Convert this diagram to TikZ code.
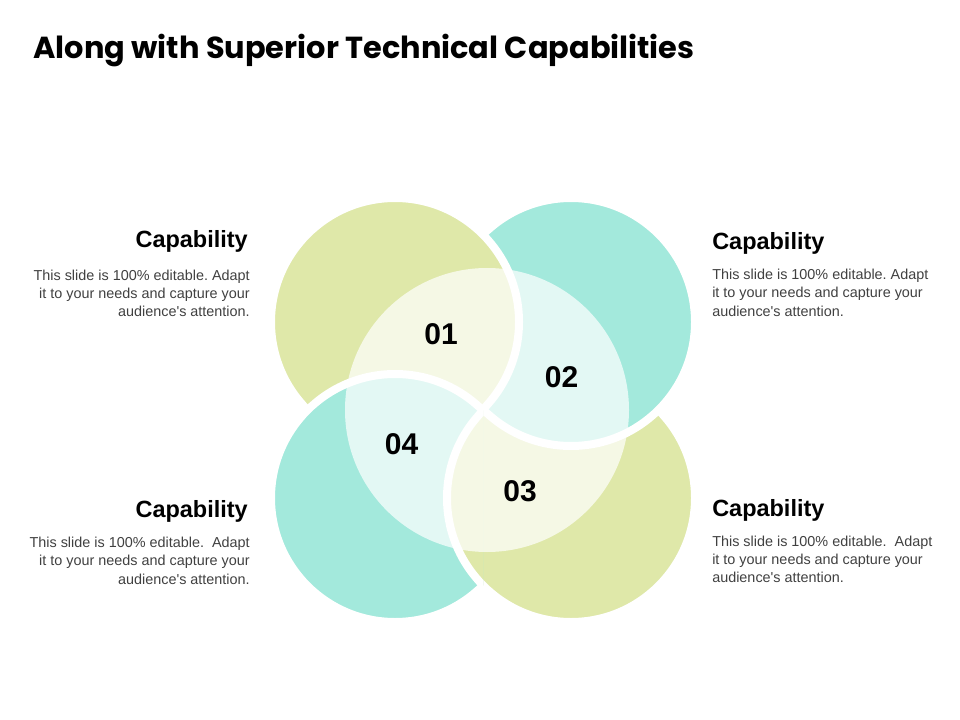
\documentclass[tikz,border=0pt]{standalone}
\usepackage{fontspec}
\setmainfont{Liberation Sans}
\newfontfamily\titlefont[Ligatures=NoCommon]{Poppins}
\usepackage{tikz}
\usetikzlibrary{positioning}

\definecolor{capgreen}{RGB}{223,232,169}
\definecolor{capteal}{RGB}{163,233,220}
\definecolor{blurbgray}{RGB}{64,64,64}

\tikzset{
  petal/.style={draw=white, line width=6pt},
  heading/.style={font=\bfseries\fontsize{17.6}{20}\selectfont, inner sep=0pt},
  blurb/.style={font=\frenchspacing\fontsize{10.8}{13.7}\selectfont, text=blurbgray, inner sep=0pt},
  numlabel/.style={font=\bfseries\fontsize{22.5}{26}\selectfont, inner sep=0pt}
}

% the four circles
\newcommand{\petalone}{\fill[capgreen, petal] (395,322) circle (124);}
\newcommand{\petaltwo}{\fill[capteal, petal] (571,322) circle (124);}
\newcommand{\petalthree}{\fill[capgreen, petal] (571,498) circle (124);}
\newcommand{\petalfour}{\fill[capteal, petal] (395,498) circle (124);}

\begin{document}
\begin{tikzpicture}[x=0.75pt, y=-0.75pt]
  \useasboundingbox (0,0) rectangle (960,720);

  \node[anchor=base west, inner sep=0pt, font=\titlefont\bfseries\fontsize{22.8}{26}\selectfont] (title) at (33,59) {Along with Superior Technical Capabilities};

  % each quarter keeps its own order
  \begin{scope}
    \clip (0,0) rectangle (483,410);
    \petaltwo \petalone \petalfour
  \end{scope}
  \begin{scope}
    \clip (483,0) rectangle (960,410);
    \petalthree \petaltwo \petalone
  \end{scope}
  \begin{scope}
    \clip (483,410) rectangle (960,720);
    \petalfour \petalthree \petaltwo
  \end{scope}
  \begin{scope}
    \clip (0,410) rectangle (483,720);
    \petalone \petalfour \petalthree
  \end{scope}

  % pale middle
  \fill[white, fill opacity=0.7] (487,410) circle (142);

  \node[numlabel] (n1) at (441,334) {01};
  \node[numlabel] (n2) at (561.5,377.5) {02};
  \node[numlabel] (n3) at (520,491) {03};
  \node[numlabel] (n4) at (401.5,444) {04};

  \node[heading, anchor=base east] (h1) at (248,248) {Capability};
  \node[blurb, anchor=north east, align=right] (b1) at (250,269.5) {This slide is 100\% editable. Adapt\\it to your needs and capture your\\audience\textquotesingle s attention.};

  \node[heading, anchor=base west] (h2) at (712,250) {Capability};
  \node[blurb, anchor=north west, align=left] (b2) at (712,269) {This slide is 100\% editable. Adapt\\it to your needs and capture your\\audience\textquotesingle s attention.};

  \node[heading, anchor=base east] (h4) at (248,517) {Capability};
  \node[blurb, anchor=north east, align=right] (b4) at (250,537) {This slide is 100\% editable.~ Adapt\\it to your needs and capture your\\audience\textquotesingle s attention.};

  \node[heading, anchor=base west] (h3) at (712,516) {Capability};
  \node[blurb, anchor=north west, align=left] (b3) at (712,535.5) {This slide is 100\% editable.~ Adapt\\it to your needs and capture your\\audience\textquotesingle s attention.};
\end{tikzpicture}
\end{document}
